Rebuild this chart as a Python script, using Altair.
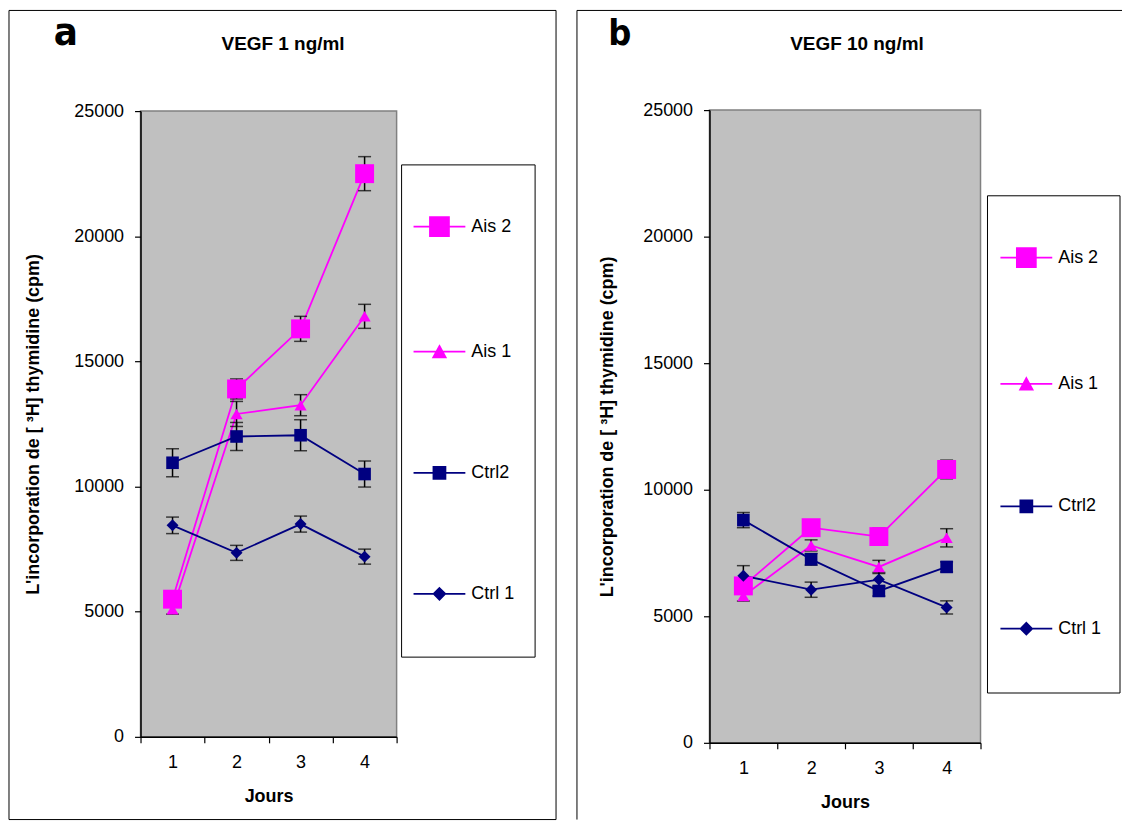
import altair as alt
import pandas as pd

# ---------------- data ----------------
DAYS = [1, 2, 3, 4]
SERIES = ["Ais 2", "Ais 1", "Ctrl2", "Ctrl 1"]

# panel a : VEGF 1 ng/ml
A_AIS2 = [5500, 13900, 16300, 22500]
A_AIS2_ERR = [250, 400, 500, 680]
A_AIS1 = [5100, 12900, 13250, 16800]
A_AIS1_ERR = [200, 500, 420, 480]
A_CTRL2 = [10950, 12000, 12050, 10500]
A_CTRL2_ERR = [560, 560, 620, 520]
A_CTRL1 = [8450, 7350, 8500, 7200]
A_CTRL1_ERR = [330, 300, 320, 300]

# panel b : VEGF 10 ng/ml
B_AIS2 = [6200, 8500, 8150, 10800]
B_AIS2_ERR = [200, 300, 330, 370]
B_AIS1 = [5800, 7800, 6950, 8100]
B_AIS1_ERR = [200, 220, 260, 360]
B_CTRL2 = [8800, 7250, 6000, 6950]
B_CTRL2_ERR = [300, 230, 200, 200]
B_CTRL1 = [6600, 6050, 6450, 5350]
B_CTRL1_ERR = [400, 300, 280, 260]

X_DOMAIN = [0.5, 4.5]
X_TICKS = [0.5, 1, 1.5, 2, 2.5, 3, 3.5, 4, 4.5]
Y_DOMAIN = [0, 25000]
Y_TICKS = [0, 5000, 10000, 15000, 20000, 25000]
PANEL_LETTERS = ["a", "b"]
PANEL_TITLES = ["VEGF 1 ng/ml", "VEGF 10 ng/ml"]
X_TITLE = "Jours"
Y_TITLE = "L'incorporation de [ \u00b3H] thymidine (cpm)"

# ---------------- style ----------------
FONT = "Liberation Sans"
LETTER_FONT = "Liberation Sans Narrow, DejaVu Sans Condensed, Liberation Sans"
COLORS = ["#FF00FF", "#FF00FF", "#000080", "#000080"]
SHAPES = ["square", "triangle-up", "square", "diamond"]
SIZES = [361, 150, 160, 144]
PLOT_BG = "#C0C0C0"
PLOT_BORDER = "#808080"

# legend symbols: line segment + marker (pixel coordinates, size=4 -> scale 1)
LEG_LINE = "M-26,0H26"
LEG_MARKERS = [
    "M-9.5,-9.5H9.5V9.5H-9.5Z",
    "M0,-5.7L6.2,5.7H-6.2Z",
    "M-6,-6H6V6H-6Z",
    "M0,-5.8L5.8,0L0,5.8L-5.8,0Z",
]


def by_series_expr(values):
    expr = f"'{values[-1]}'"
    for s, v in reversed(list(zip(SERIES[:-1], values[:-1]))):
        expr = f"datum.value === '{s}' ? '{v}' : ({expr})"
    return {"expr": expr}


def long_df(values, errors):
    rows = []
    for s, vals, errs in zip(SERIES, values, errors):
        for d, v, e in zip(DAYS, vals, errs):
            rows.append(dict(day=d, series=s, value=v, lo=v - e, hi=v + e))
    return pd.DataFrame(rows)


def panel(df, letter, title, g):
    w, h, xr, yr = g["w"], g["h"], g["xr"], g["yr"]
    xs = alt.Scale(domain=X_DOMAIN, range=xr, nice=False, zero=False)
    ys = alt.Scale(domain=Y_DOMAIN, range=yr, nice=False, zero=False)
    xaxis = alt.Axis(
        values=X_TICKS, title=X_TITLE, grid=False, offset=yr[0] - h,
        labelExpr="datum.value % 1 === 0 ? '' + datum.value : ''",
        tickOpacity={"condition": {"test": "datum.value % 1 === 0", "value": 0}, "value": 1},
        domainColor="black", domainWidth=1.5, tickColor="black", tickSize=6, tickWidth=1.2,
        labelFont=FONT, labelFontSize=18, labelColor="black", labelPadding=11,
        labelFlush=False, labelOverlap=False, labelBound=False,
        titleFont=FONT, titleFontSize=18, titleFontWeight="bold", titleColor="black",
        titleY=60, titleBaseline="middle", zindex=1,
    )
    yaxis = alt.Axis(
        values=Y_TICKS, format="d", title=Y_TITLE, grid=False, offset=-xr[0],
        domainColor="black", domainWidth=1.5, tickColor="black", tickSize=6, tickWidth=1.2,
        labelFont=FONT, labelFontSize=18, labelColor="black", labelPadding=11,
        labelOverlap=False, labelBound=False, labelFlush=False,
        titleFont=FONT, titleFontSize=18, titleFontWeight="bold", titleColor="black",
        titleX=g["ytitle_x"], titleBaseline="middle", zindex=1,
    )
    legend = alt.Legend(
        orient="none", legendX=g["leg"][0], legendY=g["leg"][1], title=None,
        padding=0, rowPadding=g["row_pad"], symbolOffset=0, labelOffset=23,
        symbolType=by_series_expr([LEG_LINE + m for m in LEG_MARKERS]),
        symbolSize=4, symbolStrokeWidth=1.8, symbolOpacity=1,
        symbolFillColor=by_series_expr(COLORS), symbolStrokeColor=by_series_expr(COLORS),
        labelFont=FONT, labelFontSize=18, labelColor="black",
    )
    color = alt.Color("series:N", scale=alt.Scale(domain=SERIES, range=COLORS), legend=legend)

    def X(f):
        return alt.X(f, scale=xs, axis=xaxis)

    def Y(f):
        return alt.Y(f, scale=ys, axis=yaxis)

    bg_df = pd.DataFrame({"x0": [X_DOMAIN[0]], "x1": [X_DOMAIN[1]],
                          "y0": [Y_DOMAIN[0]], "y1": [Y_DOMAIN[1]]})
    bg = alt.Chart(bg_df).mark_rect(fill=PLOT_BG, stroke=PLOT_BORDER, strokeWidth=1.5).encode(
        x=X("x0:Q"), x2="x1:Q", y=Y("y0:Q"), y2="y1:Q")
    base = alt.Chart(df)
    lines = base.mark_line(strokeWidth=1.8).encode(x=X("day:Q"), y=Y("value:Q"), color=color)
    rules = base.mark_rule(color="black", strokeWidth=1.5).encode(
        x=X("day:Q"), y=Y("lo:Q"), y2="hi:Q")
    caps = base.transform_fold(["lo", "hi"], as_=["end", "v"]).mark_tick(
        color="black", orient="horizontal", size=13, thickness=1.5).encode(
        x=X("day:Q"), y=Y("v:Q"))
    point_layers = [
        base.transform_filter(alt.datum.series == s).mark_point(
            shape=shp, size=sz, filled=True, opacity=1).encode(
            x=X("day:Q"), y=Y("value:Q"), color=color)
        for s, shp, sz in zip(SERIES, SHAPES, SIZES)
    ]
    txt = pd.DataFrame({"t": [letter, title]})
    one = alt.Chart(txt).transform_filter(alt.datum.t == letter)
    letter_txt = one.mark_text(
        font=LETTER_FONT, fontSize=g["letter_size"], fontWeight="bold",
        align="center", baseline="alphabetic", color="black").encode(
        text="t:N", x=alt.value(g["letter_xy"][0]), y=alt.value(g["letter_xy"][1]))
    title_txt = alt.Chart(txt).transform_filter(alt.datum.t == title).mark_text(
        font=FONT, fontSize=19, fontWeight="bold", align="center", baseline="middle",
        color="black").encode(
        text="t:N", x=alt.value(g["title_xy"][0]), y=alt.value(g["title_xy"][1]))

    bx = g["box"]
    legend_box = one.mark_rect(fill="white", stroke="black", strokeWidth=1).encode(
        x=alt.value(bx[0]), x2=alt.value(bx[2]), y=alt.value(bx[1]), y2=alt.value(bx[3]))

    if g["full_box"]:
        frame = [one.mark_rect(fillOpacity=0, stroke="black", strokeWidth=1).encode(
            x=alt.value(0), x2=alt.value(w), y=alt.value(0), y2=alt.value(h))]
    else:
        frame = [
            one.mark_rule(color="black", strokeWidth=1).encode(
                x=alt.value(0), x2=alt.value(w), y=alt.value(0)),
            one.mark_rule(color="black", strokeWidth=1).encode(
                x=alt.value(0), y=alt.value(0), y2=alt.value(h)),
        ]

    return alt.layer(bg, legend_box, lines, rules, caps, *point_layers, letter_txt, title_txt,
                     *frame).properties(width=w, height=h)


GEO_A = dict(w=549, h=812, xr=[132, 389], yr=[729, 101], leg=(423, 208), row_pad=101.5,
             box=(394, 155, 528, 649),
             letter_xy=(57, 35), letter_size=40, ytitle_x=-107,
             title_xy=(275, 34), full_box=True)
GEO_B = dict(w=547, h=812, xr=[133, 405], yr=[735, 100], leg=(442, 239), row_pad=102.8,
             box=(412, 186, 545, 685),
             letter_xy=(43, 35), letter_size=36, ytitle_x=-102,
             title_xy=(281, 34), full_box=False)

df_a = long_df([A_AIS2, A_AIS1, A_CTRL2, A_CTRL1],
               [A_AIS2_ERR, A_AIS1_ERR, A_CTRL2_ERR, A_CTRL1_ERR])
df_b = long_df([B_AIS2, B_AIS1, B_CTRL2, B_CTRL1],
               [B_AIS2_ERR, B_AIS1_ERR, B_CTRL2_ERR, B_CTRL1_ERR])

pa = panel(df_a, PANEL_LETTERS[0], PANEL_TITLES[0], GEO_A)
pb = panel(df_b, PANEL_LETTERS[1], PANEL_TITLES[1], GEO_B)

chart = alt.hconcat(pa, pb, spacing=19).resolve_scale(
    x="independent", y="independent", color="independent",
).properties(padding=0, background="white").configure_view(strokeWidth=0)

chart.save("out.html", embed_options={"renderer": "svg", "actions": False})
